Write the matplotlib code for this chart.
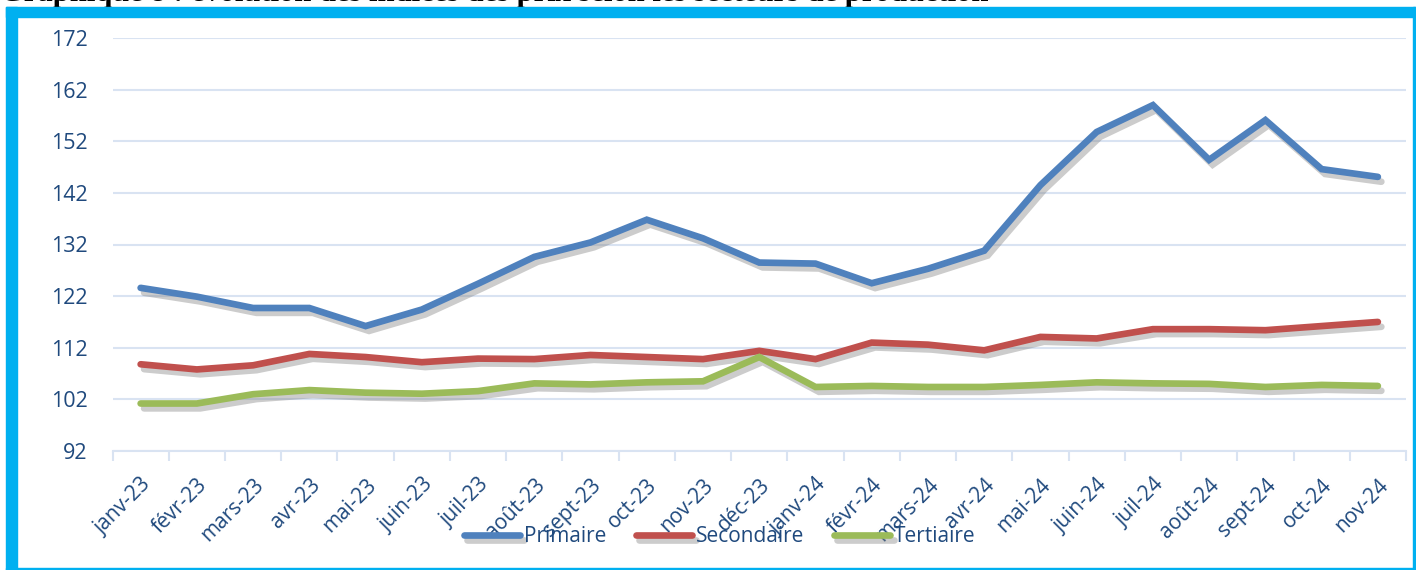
import matplotlib.pyplot as plt
import matplotlib.patheffects as pe
from matplotlib.patches import Rectangle

# month labels
mois = ["janv-23", "févr-23", "mars-23", "avr-23", "mai-23", "juin-23", "juil-23",
        "août-23", "sept-23", "oct-23", "nov-23", "déc-23", "janv-24", "févr-24",
        "mars-24", "avr-24", "mai-24", "juin-24", "juil-24", "août-24", "sept-24",
        "oct-24", "nov-24"]

primaire = [123.6, 121.9, 119.7, 119.7, 116.2, 119.4, 124.4, 129.6, 132.4, 136.8,
            133.2, 128.5, 128.3, 124.5, 127.3, 130.8, 143.5, 153.8, 159.0, 148.4,
            156.1, 146.6, 145.1]
secondaire = [108.8, 107.8, 108.6, 110.8, 110.2, 109.2, 109.9, 109.8, 110.6, 110.2,
              109.8, 111.4, 109.8, 113.0, 112.6, 111.5, 114.1, 113.8, 115.6, 115.6,
              115.4, 116.2, 117.0]
tertiaire = [101.2, 101.2, 103.0, 103.8, 103.3, 103.1, 103.6, 105.1, 104.9, 105.3,
             105.5, 110.2, 104.4, 104.6, 104.4, 104.4, 104.8, 105.3, 105.1, 105.0,
             104.4, 104.8, 104.6]

W, H = 1416, 570
txt_col = "#1F497D"
grid_col = "#D9E3F2"
cyan = "#00B0F0"

fig = plt.figure(figsize=(W / 100, H / 100), dpi=100)
ax = fig.add_axes([112.5 / W, 1 - 451 / H, (1406 - 112.5) / W, (451 - 38) / H])

x = list(range(len(mois)))
shadow = [pe.SimpleLineShadow(offset=(2.5, -3.5), shadow_color="gray", alpha=0.4), pe.Normal()]
for vals, col, lab in [(primaire, "#4F81BD", "Primaire"),
                       (secondaire, "#C0504D", "Secondaire"),
                       (tertiaire, "#9BBB59", "Tertiaire")]:
    ax.plot(x, vals, color=col, lw=4.8, label=lab, solid_capstyle="round",
            solid_joinstyle="miter", path_effects=shadow)

ax.set_ylim(92, 172)
ax.set_yticks(range(92, 173, 10))
ax.set_xlim(-0.5, len(mois) - 0.5)
ax.set_xticks(x)
ax.set_xticklabels(mois, rotation=45, ha="right", rotation_mode="anchor")
ax.set_xticks([i - 0.5 for i in range(len(mois) + 1)], minor=True)
ax.tick_params(axis="x", which="major", length=0, pad=17, labelsize=15, labelcolor=txt_col)
ax.tick_params(axis="x", which="minor", length=7, color=grid_col, width=1.5)
ax.tick_params(axis="y", length=0, pad=18, labelsize=15.5, labelcolor=txt_col)
for lbl in ax.get_xticklabels() + ax.get_yticklabels():
    lbl.set_fontfamily("Open Sans")

ax.grid(axis="y", color=grid_col, lw=1.5)
ax.set_axisbelow(True)
for s in ["top", "right", "left"]:
    ax.spines[s].set_visible(False)
ax.spines["bottom"].set_color(grid_col)
ax.spines["bottom"].set_linewidth(1.5)

leg = fig.legend(loc="center", bbox_to_anchor=(720 / W, 1 - 537 / H), ncol=3,
                 frameon=False, handlelength=2.7, handletextpad=0.2,
                 columnspacing=1.4, prop={"family": "Open Sans", "size": 15})
for t in leg.get_texts():
    t.set_color(txt_col)

# frame
fig.patches.append(Rectangle((6 / W, 0), 11 / W, (H - 7) / H, transform=fig.transFigure,
                             color=cyan, zorder=5))
fig.patches.append(Rectangle((6 / W, 1 - 17 / H), (W - 6) / W, 10 / H, transform=fig.transFigure,
                             color=cyan, zorder=5))
fig.patches.append(Rectangle((1413 / W, 0), 2 / W, (H - 7) / H, transform=fig.transFigure,
                             color=cyan, zorder=5))
fig.patches.append(Rectangle((6 / W, 0), (W - 6) / W, 2 / H, transform=fig.transFigure,
                             color=cyan, zorder=5))

fig.text(0, 1 - 1.5 / H, "Graphique 8 : évolution des indices des prix selon les secteurs de production",
         ha="left", va="baseline", fontsize=22, fontweight="bold", family="Liberation Serif")

fig.savefig("out.png", dpi=100)
